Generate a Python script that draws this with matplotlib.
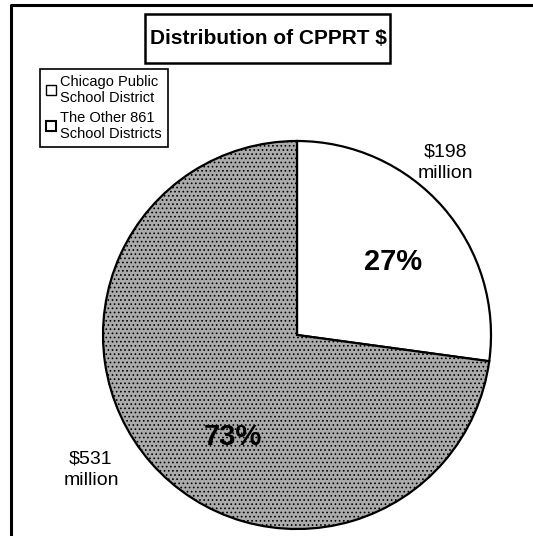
import matplotlib.pyplot as plt
from matplotlib.patches import Rectangle

categories = ["Chicago Public\nSchool District", "The Other 861\nSchool Districts"]
amounts = [198, 531]  # $ million
amount_labels = ["$198\nmillion", "$531\nmillion"]
pct_labels = ["27%", "73%"]

W, H = 533, 536
plt.rcParams["hatch.color"] = "#303030"
plt.rcParams["hatch.linewidth"] = 0.7

fig = plt.figure(figsize=(W / 100, H / 100), dpi=100)
ax = fig.add_axes([0, 0, 1, 1])

wedges, _ = ax.pie(amounts, center=(297, H - 335), radius=194,
                   startangle=90, counterclock=False,
                   colors=["white", "#ababab"],
                   wedgeprops=dict(edgecolor="black", linewidth=1.6))
wedges[1].set_hatch("....")

# pie() resets the limits, so fix them afterwards
ax.set_xlim(0, W)
ax.set_ylim(0, H)
ax.set_aspect("equal")
ax.axis("off")

# outer frame (left and top edges only visible)
ax.plot([11, 11, W], [0, H - 5, H - 5], color="black", lw=2.2)

# title box
ax.add_patch(Rectangle((145, H - 63), 245, 49, fc="white", ec="black", lw=1.8))
ax.text(268, H - 39, "Distribution of CPPRT $", ha="center", va="center",
        fontsize=15, fontweight="bold", family="Liberation Sans")

ax.text(445, H - 163, amount_labels[0], ha="center", va="center",
        fontsize=14, family="Liberation Sans", linespacing=1.35)
ax.text(91, H - 470, amount_labels[1], ha="center", va="center",
        fontsize=14, family="Liberation Sans", linespacing=1.35)
ax.text(393, H - 262, pct_labels[0], ha="center", va="center",
        fontsize=21, fontweight="bold", family="Liberation Sans")
ax.text(233, H - 437, pct_labels[1], ha="center", va="center",
        fontsize=21, fontweight="bold", family="Liberation Sans")

handles = [Rectangle((0, 0), 1, 1, fc="white", ec="black", lw=1),
           Rectangle((0, 0), 1, 1, fc="white", ec="black", lw=1.5)]
leg = ax.legend(handles, categories, loc="upper left",
                bbox_to_anchor=(40 / W, 1 - 69 / H), borderaxespad=0,
                prop={"family": "Liberation Sans", "size": 10.5},
                handlelength=0.7, handleheight=0.7, handletextpad=0.3,
                borderpad=0.4, labelspacing=0.4, fancybox=False,
                edgecolor="black", framealpha=1)
leg.get_frame().set_linewidth(1.2)

fig.savefig("out.png", dpi=100)
